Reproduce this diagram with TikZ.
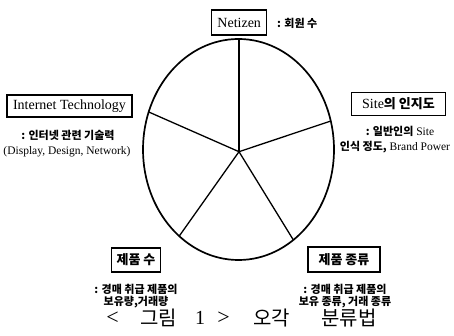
\documentclass[tikz,border=0pt]{standalone}
\usepackage{fontspec}
\setmainfont{Liberation Serif}
\newfontfamily\kr{Noto Sans CJK KR}
\usetikzlibrary{calc}
\begin{document}
\begin{tikzpicture}[x=1pt,y=-1pt,
  lbl/.style={draw, line width=1.1pt, inner sep=2pt, font=\fontsize{14}{16}\selectfont},
  krl/.style={font=\kr\bfseries\fontsize{13}{15}\selectfont},
  desc/.style={inner sep=0pt, font=\fontsize{11.5}{13}\selectfont},
  kd/.style={inner sep=0pt, font=\kr\bfseries\fontsize{11}{13}\selectfont},
  captext/.style={inner sep=0pt, font=\kr\fontsize{20}{22}\selectfont},
  spoke/.style={line width=1.3pt},
  rim/.style={line width=1.7pt}]
\useasboundingbox (0,0) rectangle (454,336);
% pie
\coordinate (c) at (238.5,149.5);
\coordinate (hub) at (239,151.7);
\coordinate (e1) at (239,39);
\coordinate (e2) at (331.7,120.7);
\coordinate (e3) at (294,241);
\coordinate (e4) at (180,235);
\coordinate (e5) at (151.7,113.3);
\begin{scope}
\clip (c) ellipse [x radius=95.5, y radius=110.5];
\foreach \e in {e1,e2,e3,e4,e5}
  \draw[spoke] (hub) -- ($(hub)!1.3!(\e)$);
\end{scope}
\draw[rim] (c) ellipse [x radius=95.5, y radius=110.5];
% labels
\node[lbl, minimum width=55pt, minimum height=25pt] (net) at (239.2,22.5) {Netizen};
\node[kd, anchor=west] (netd) at (277,23) {: 회원 수};
\node[lbl, minimum width=125pt, minimum height=22pt] (it) at (69.5,106) {Internet Technology};
\node[kd] (itd1) at (68,135) {: 인터넷 관련 기술력};
\node[desc] (itd2) at (67,151.5) {(Display, Design, Network)};
\node[lbl, minimum width=94pt, minimum height=23pt] (site) at (398.5,104) {Site{\kr\bfseries\fontsize{13}{15}\selectfont 의 인지도}};
\node[desc] (sd1) at (400,131.5) {{\kr\bfseries\fontsize{11}{13}\selectfont : 일반인의} Site};
\node[desc] (sd2) at (395,147) {{\kr\bfseries\fontsize{11}{13}\selectfont 인식 정도,} Brand Power};
\node[lbl, krl, minimum width=49pt, minimum height=24pt] (pn) at (136,260) {제품 수};
\node[kd] (pn1) at (136,289) {: 경매 취급 제품의};
\node[kd] (pn2) at (136,302) {보유량,거래량};
\node[lbl, krl, minimum width=72pt, minimum height=25pt] (pk) at (344,259.5) {제품 종류};
\node[kd] (pk1) at (345,289) {: 경매 취급 제품의};
\node[kd] (pk2) at (345,302) {보유 종류, 거래 종류};
% caption
\node[inner sep=0pt, font=\fontsize{22}{24}\selectfont] (cap1) at (112.5,318) {<};
\node[captext] (cap2) at (158.5,318) {그림};
\node[inner sep=0pt, font=\fontsize{20}{22}\selectfont] (cap3) at (200,318) {1};
\node[inner sep=0pt, font=\fontsize{22}{24}\selectfont] (cap4) at (223.5,318) {>};
\node[captext] (cap5) at (271.5,318) {오각};
\node[captext] (cap6) at (349,318) {분류법};
\end{tikzpicture}
\end{document}
